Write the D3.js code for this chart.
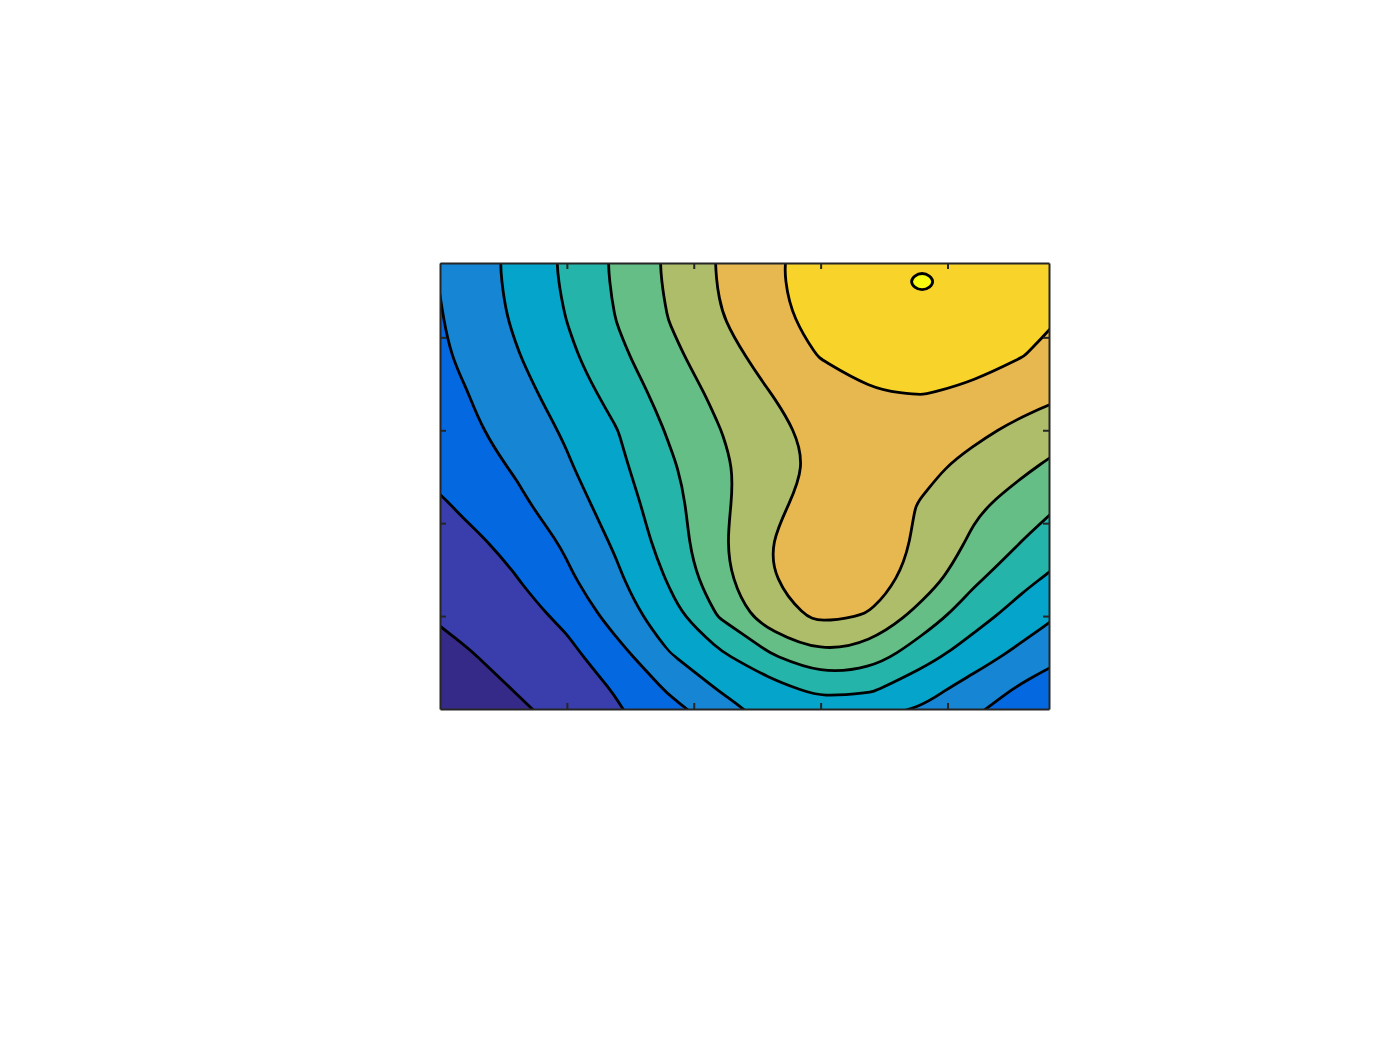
<!DOCTYPE html>
<html>
<head>
<meta charset="utf-8">
<script src="https://cdn.jsdelivr.net/npm/d3@7"></script>
<style>
  body { margin: 0; background: #ffffff; }
  .axis path, .axis line { stroke: #262626; stroke-width: 2; }
</style>
</head>
<body>
<div class="chart"></div>
<script>
var svgWidth = 1400;
var svgHeight = 1050;

var margin = { top: 263, right: 351, bottom: 341, left: 440 };

var width = svgWidth - margin.left - margin.right;
var height = svgHeight - margin.top - margin.bottom;

// grid positions (data units) - grid runs a bit past the axes box and gets clipped
var gridX = [-0.2, 0.2, 0.6, 1.0, 1.4, 1.8, 2.2, 2.6, 3.0, 3.4, 3.8, 4.2, 4.6, 5.0];
var gridY = [5.0, 4.6, 4.2, 3.8, 3.4, 3.0, 2.6, 2.2, 1.8, 1.4, 1.0, 0.6, 0.2, -0.2];

// Z values, top row first
var z = [
  [2.75, 3.48, 4.26, 5.21, 6.20, 7.17, 8.08, 8.86, 9.35, 9.60, 9.71, 9.62, 9.60, 9.35],
  [2.64, 3.42, 4.24, 5.16, 6.17, 7.14, 8.05, 8.83, 9.42, 9.69, 10.14, 9.69, 9.45, 9.10],
  [2.57, 3.33, 4.14, 5.02, 6.05, 7.01, 7.93, 8.70, 9.35, 9.46, 9.71, 9.44, 9.25, 8.90],
  [2.50, 3.19, 3.93, 4.78, 5.78, 6.73, 7.61, 8.38, 9.05, 9.22, 9.36, 9.22, 9.01, 8.55],
  [2.33, 2.96, 3.67, 4.45, 5.39, 6.40, 7.24, 7.99, 8.47, 8.97, 9.02, 8.90, 8.39, 8.02],
  [2.20, 2.79, 3.39, 4.14, 4.99, 6.09, 6.97, 7.70, 8.30, 8.55, 8.64, 8.23, 7.75, 7.20],
  [2.02, 2.53, 3.10, 3.88, 4.77, 5.82, 6.78, 7.57, 8.20, 8.35, 8.24, 7.70, 7.16, 6.49],
  [1.61, 2.16, 2.78, 3.55, 4.49, 5.60, 6.77, 7.73, 8.45, 8.35, 7.94, 7.21, 6.51, 5.81],
  [1.48, 1.78, 2.27, 3.17, 4.18, 5.44, 6.82, 7.99, 8.45, 8.40, 7.88, 6.84, 5.96, 5.19],
  [1.21, 1.59, 1.97, 2.82, 3.85, 5.08, 6.68, 7.97, 8.35, 8.45, 7.60, 6.20, 5.25, 4.50],
  [0.90, 1.32, 1.62, 2.22, 3.45, 4.60, 6.06, 7.60, 8.20, 7.93, 6.57, 5.41, 4.52, 3.77],
  [0.46, 0.92, 1.39, 1.75, 2.70, 3.96, 4.88, 5.99, 6.98, 6.56, 5.46, 4.53, 3.73, 3.01],
  [0.10, 0.57, 1.03, 1.53, 2.07, 3.08, 4.02, 4.55, 5.25, 5.08, 4.33, 3.58, 2.79, 2.10],
  [-0.52, 0.07, 0.67, 1.14, 1.81, 2.38, 3.12, 4.01, 3.80, 3.68, 3.59, 2.82, 2.17, 1.50]
];

var levels = [1, 2, 3, 4, 5, 6, 7, 8, 9, 10];
var bandColors = ["#352a87", "#393eac", "#0469e1", "#1685d4", "#05a4ca", "#24b4aa",
                  "#65be86", "#aebd6a", "#e8b850", "#f8d32a", "#f8fa10"];
var xTickValues = [1, 2, 3, 4];
var yTickValues = [1, 2, 3, 4];

var svg = d3.select(".chart")
    .append("svg")
    .attr("width", svgWidth)
    .attr("height", svgHeight);

var chartGroup = svg.append("g")
    .attr("transform", `translate(${margin.left}, ${margin.top})`);

// Scales
var xScale = d3.scaleLinear().domain([0, 4.8]).range([0, width]);
var yScale = d3.scaleLinear().domain([0, 4.8]).range([height, 0]);

// Contours
var nx = gridX.length, ny = gridY.length;
var values = [].concat.apply([], z);
var contours = d3.contours().size([nx, ny]).thresholds(levels)(values);

var stepX = gridX[1] - gridX[0];
var stepY = gridY[1] - gridY[0];

function toPx(p) {
    return [xScale(gridX[0] + (p[0] - 0.5) * stepX), yScale(gridY[0] + (p[1] - 0.5) * stepY)];
}

// smooth the marching-squares rings
var ringLine = d3.line().curve(d3.curveBasisClosed);

function pathFor(geom) {
    return geom.coordinates.map(function(poly) {
        return poly.map(function(ring) {
            return ringLine(ring.slice(0, -1).map(toPx));
        }).join("");
    }).join("");
}

svg.append("defs").append("clipPath")
    .attr("id", "plot-clip")
    .append("rect")
    .attr("width", width)
    .attr("height", height);

var plot = chartGroup.append("g").attr("clip-path", "url(#plot-clip)");

plot.append("rect")
    .attr("width", width)
    .attr("height", height)
    .attr("fill", bandColors[0]);

plot.selectAll("path.band")
    .data(contours)
    .enter()
    .append("path")
    .attr("class", "band")
    .attr("d", d => pathFor(d))
    .attr("fill", (d, i) => bandColors[i + 1])
    .attr("fill-rule", "evenodd")
    .attr("stroke", "#000")
    .attr("stroke-width", 2.8)
    .attr("stroke-linejoin", "round");

// Axes box with inward ticks, no labels
chartGroup.append("g")
    .attr("class", "axis")
    .attr("transform", `translate(0, ${height})`)
    .call(d3.axisBottom(xScale).tickValues(xTickValues).tickSize(-6).tickSizeOuter(0).tickFormat(""));

chartGroup.append("g")
    .attr("class", "axis")
    .call(d3.axisTop(xScale).tickValues(xTickValues).tickSize(-6).tickSizeOuter(0).tickFormat(""));

chartGroup.append("g")
    .attr("class", "axis")
    .call(d3.axisLeft(yScale).tickValues(yTickValues).tickSize(-6).tickSizeOuter(0).tickFormat(""));

chartGroup.append("g")
    .attr("class", "axis")
    .attr("transform", `translate(${width}, 0)`)
    .call(d3.axisRight(yScale).tickValues(yTickValues).tickSize(-6).tickSizeOuter(0).tickFormat(""));
</script>
</body>
</html>
